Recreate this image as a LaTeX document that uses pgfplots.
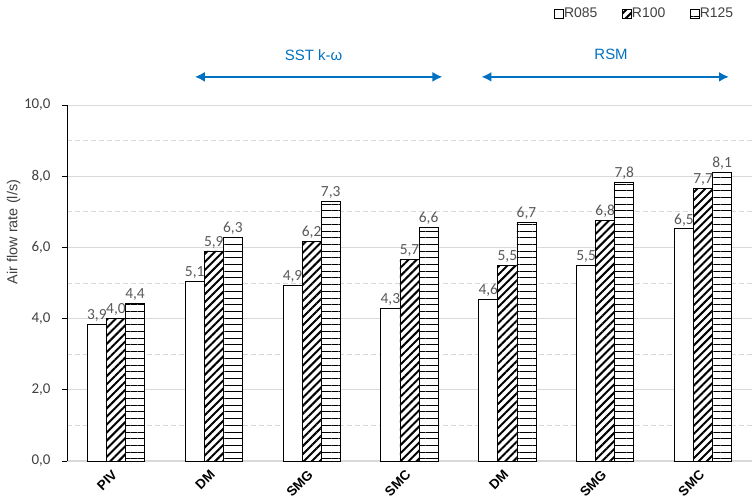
\documentclass[border=0pt]{standalone}
\usepackage{pgfplots}
\pgfplotsset{compat=1.18}
\usepackage{pgfplotstable}
\usepackage{fontspec}
\setmainfont{Liberation Sans}
\newfontfamily\calibri{Carlito}
\usetikzlibrary{patterns.meta,arrows.meta}
\definecolor{gridc}{HTML}{D9D9D9}
\definecolor{lblc}{HTML}{595959}
\definecolor{txtc}{HTML}{404040}
\definecolor{arrc}{HTML}{0070C0}

\pgfplotstableread{
x y lab
0 3.85 3,9
1 5.05 5,1
2 4.92 4,9
3 4.30 4,3
4 4.55 4,6
5 5.50 5,5
6 6.52 6,5
}\Rzero
\pgfplotstableread{
x y lab
0 4.00 4,0
1 5.90 5,9
2 6.17 6,2
3 5.65 5,7
4 5.50 5,5
5 6.75 6,8
6 7.65 7,7
}\Rone
\pgfplotstableread{
x y lab
0 4.42 4,4
1 6.28 6,3
2 7.28 7,3
3 6.57 6,6
4 6.70 6,7
5 7.82 7,8
6 8.12 8,1
}\Rtwo

\begin{document}
\begin{tikzpicture}
\useasboundingbox (0,0) rectangle (752bp,499bp);
\begin{axis}[
  at={(67bp,38bp)}, anchor=south west,
  scale only axis, width=685bp, height=356bp,
  xmin=-0.5, xmax=6.5, ymin=0, ymax=10,
  ybar=0pt, bar width=0.195,
  axis x line*=bottom, axis y line*=left,
  x axis line style={gridc, line width=1bp, -},
  y axis line style={black, line width=0.8bp, -},
  xtick={0,...,6}, xticklabels={PIV,DM,SMG,SMC,DM,SMG,SMC},
  xtick style={draw=none},
  ytick={0,2,...,10}, minor ytick={1,3,...,9},
  ymajorgrids, yminorgrids,
  major grid style={gridc, line width=0.8bp},
  minor grid style={gridc, dash pattern=on 5bp off 3bp, line width=0.8bp},
  tick align=outside, major tick length=5bp, minor tick length=0pt,
  ytick style={black, line width=0.8bp},
  /pgf/number format/assume math mode=true,
  yticklabel style={/pgf/number format/.cd, fixed, fixed zerofill, precision=1, use comma, /tikz/.cd,
    font=\calibri\fontsize{15}{15}\selectfont, text=txtc, xshift=-8bp},
  xticklabel style={rotate=45, anchor=north east, font=\bfseries\fontsize{13.5}{13.5}\selectfont, inner sep=0.5bp, text=black, xshift=-5bp, yshift=1.5bp},
  ylabel={Air flow rate (l/s)},
  every axis y label/.style={at={(axis description cs:-0.078,0.643)}, rotate=90, anchor=center, font=\fontsize{14.5}{14.5}\selectfont, text=txtc},
  every axis plot/.append style={draw=black, line width=0.8bp},
  nodes near coords, point meta=explicit symbolic,
  nodes near coords style={font=\calibri\fontsize{15.5}{15.5}\selectfont, text=lblc, inner sep=2.5bp},
  legend image code/.code={\draw[#1, line width=0.6bp] (0bp,-4.5bp) rectangle (9bp,4.5bp);},
  legend style={at={(0.978,1.256)}, anchor=east, draw=none, fill=none, legend columns=-1,
    font=\fontsize{14}{14}\selectfont, text=txtc,
    /tikz/every even column/.append style={column sep=24bp},
    nodes={inner sep=0.5bp}},
  clip=false,
]
\addplot[fill=white] table[x=x, y=y, meta=lab] {\Rzero};
\addlegendentry{R085}
\addplot[fill=white, postaction={pattern={Lines[angle=45,distance=5.7bp,line width=2bp]}}] table[x=x, y=y, meta=lab] {\Rone};
\addlegendentry{R100}
\addplot[fill=white, postaction={pattern={Lines[angle=0,distance=6.7bp,line width=0.9bp]}}] table[x=x, y=y, meta=lab] {\Rtwo};
\addlegendentry{R125}

\draw[arrc, line width=2.2bp, {Latex[length=10bp,width=10bp]}-{Latex[length=10bp,width=10bp]}] (axis cs:0.806,10.79) -- (axis cs:3.337,10.79);
\draw[arrc, line width=2.2bp, {Latex[length=10bp,width=10bp]}-{Latex[length=10bp,width=10bp]}] (axis cs:3.735,10.79) -- (axis cs:6.265,10.79);
\node[text=arrc, font=\fontsize{15}{15}\selectfont] at (axis cs:2.02,11.40) {SST k-ω};
\node[text=arrc, font=\fontsize{15}{15}\selectfont] at (axis cs:5.06,11.42) {RSM};
\end{axis}
\end{tikzpicture}
\end{document}
